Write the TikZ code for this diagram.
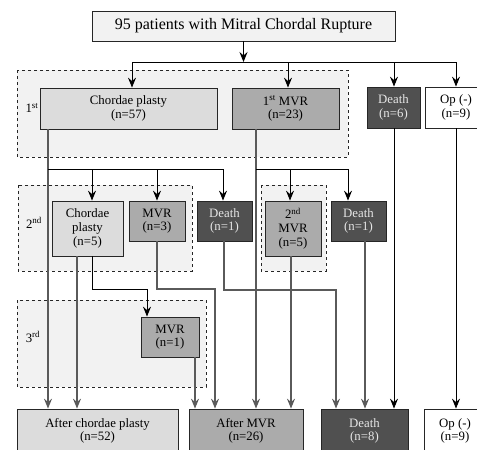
\documentclass[tikz,border=0pt]{standalone}
\usepackage{fontspec}
\setmainfont{Liberation Serif}
\newfontfamily\lserif{Liberation Serif}
\usetikzlibrary{arrows.meta,calc}
\definecolor{topgray}{HTML}{F2F2F2}
\definecolor{framegray}{HTML}{F2F2F2}
\definecolor{cpgray}{HTML}{DCDCDC}
\definecolor{mvrgray}{HTML}{ABABAB}
\definecolor{deathgray}{HTML}{505050}
\definecolor{deathtext}{HTML}{E6E6E6}
\definecolor{linegray}{HTML}{5A5A5A}
\tikzset{
  box/.style={draw=black!85, line width=0.8pt, align=center, inner sep=0pt,
              font=\lserif\fontsize{12.8}{13.6}\selectfont},
  cpbox/.style={box, fill=cpgray},
  mvrbox/.style={box, fill=mvrgray},
  deathbox/.style={box, fill=deathgray, text=deathtext},
  opbox/.style={box, fill=white},
  stagelabel/.style={inner sep=0pt, font=\lserif\fontsize{12.8}{13.6}\selectfont},
  frame/.style={draw=black!85, dashed, line width=0.7pt, fill=framegray},
  arr/.style={-{Stealth[length=10pt,width=8pt,inset=3.5pt]}, line width=0.9pt},
  ln/.style={line width=0.9pt},
  garr/.style={arr, draw=linegray, line width=1.1pt},
}
\begin{document}
\begin{tikzpicture}[x=1pt,y=-1pt]
\useasboundingbox (0,0) rectangle (477,450);
\clip (0,0) rectangle (477,450);
\fill[white] (0,0) rectangle (477,450);

% dashed stage frames
\draw[frame] (17,70) rectangle (348,157);
\draw[frame] (18,185) rectangle (192,271);
\draw[frame] (261,185) rectangle (326,271);
\draw[frame] (17,300) rectangle (206,387);

% stage labels
\node[stagelabel] (l1) at (32,108) {1\textsuperscript{st}};
\node[stagelabel] (l2) at (34,223) {2\textsuperscript{nd}};
\node[stagelabel] (l3) at (33,337) {3\textsuperscript{rd}};

% boxes
\node[box, fill=topgray, minimum width=303pt, minimum height=30pt,
      font=\lserif\fontsize{16}{18}\selectfont] (top) at (243.5,26) {95 patients with Mitral Chordal Rupture};

\node[cpbox, minimum width=177pt, minimum height=41pt] (cp1) at (128.5,108.5) {Chordae plasty\\(n=57)};
\node[mvrbox, minimum width=107pt, minimum height=41pt] (mvr1) at (285.5,108.5) {1\textsuperscript{st} MVR\\(n=23)};
\node[deathbox, minimum width=53pt, minimum height=41pt] (d1) at (393.5,107.5) {Death\\(n=6)};
\node[opbox, minimum width=62pt, minimum height=41pt] (op1) at (456,107.5) {Op (-)\\(n=9)};

\node[cpbox, minimum width=71pt, minimum height=55pt] (cp2) at (87.5,228.5) {Chordae\\plasty\\(n=5)};
\node[mvrbox, minimum width=56pt, minimum height=40pt] (mvr2) at (157,221) {MVR\\(n=3)};
\node[deathbox, minimum width=55pt, minimum height=40pt] (d2) at (224.5,221) {Death\\(n=1)};
\node[mvrbox, minimum width=56pt, minimum height=55pt] (mvr2b) at (293,228.5) {2\textsuperscript{nd}\\MVR\\(n=5)};
\node[deathbox, minimum width=55pt, minimum height=40pt] (d2b) at (358.5,221) {Death\\(n=1)};

\node[mvrbox, minimum width=58pt, minimum height=40pt] (mvr3) at (170,337) {MVR\\(n=1)};

\node[cpbox, minimum width=161pt, minimum height=44pt] (acp) at (97.5,431) {After chordae plasty\\(n=52)};
\node[mvrbox, minimum width=114pt, minimum height=44pt] (amvr) at (246,431) {After MVR\\(n=26)};
\node[deathbox, minimum width=87pt, minimum height=44pt] (d3) at (364.5,431) {Death\\(n=8)};
\node[opbox, minimum width=62pt, minimum height=44pt] (op3) at (455,431) {Op (-)\\(n=9)};

% ---- connectors, first split
\coordinate (j0) at (243.5,62);
\coordinate (jcp1) at (132,62);
\coordinate (jmvr1) at (288,62);
\coordinate (jd1) at (394,62);
\coordinate (jop1) at (456,62);
\draw[ln] (jcp1) -- (jop1);
\draw[arr] (top.south) -- (j0);
\foreach \c/\n in {jcp1/cp1, jmvr1/mvr1, jd1/d1, jop1/op1}
  \draw[arr] (\c) -- (\c |- \n.north);

% ---- second split from chordae plasty
\coordinate (kcp1) at (48,169);
\coordinate (kcp2) at (92,169);
\coordinate (kmvr2) at (157,169);
\coordinate (kd2) at (223,169);
\draw[garr] (kcp1 |- cp1.south) -- (kcp1 |- acp.north);
\draw[ln] (kcp1) -- (kd2);
\foreach \c/\n in {kcp2/cp2, kmvr2/mvr2, kd2/d2}
  \draw[arr] (\c) -- (\c |- \n.north);

% ---- second split from 1st MVR
\coordinate (kmvr1) at (256,169);
\coordinate (kmvr2b) at (290,169);
\coordinate (kd2b) at (348,169);
\draw[garr] (kmvr1 |- mvr1.south) -- (kmvr1 |- amvr.north);
\draw[ln] (kmvr1) -- (kd2b);
\foreach \c/\n in {kmvr2b/mvr2b, kd2b/d2b}
  \draw[arr] (\c) -- (\c |- \n.north);

% ---- from second stage
\coordinate (q1) at (77,300);
\draw[garr] (q1 |- cp2.south) -- (q1 |- acp.north);
\coordinate (p1) at (92,289);
\coordinate (p2) at (147,289);
\draw[arr] (p1 |- cp2.south) -- (p1) -- (p2) -- (p2 |- mvr3.north);
\coordinate (p3) at (157,289);
\coordinate (p4) at (215,289);
\draw[garr] (p3 |- mvr2.south) -- (p3) -- (p4) -- (p4 |- amvr.north);
\coordinate (p5) at (224,290);
\coordinate (p6) at (336,290);
\draw[garr] (p5 |- d2.south) -- (p5) -- (p6) -- (p6 |- d3.north);
\coordinate (q2) at (291,300);
\draw[garr] (q2 |- mvr2b.south) -- (q2 |- amvr.north);
\coordinate (q3) at (365,300);
\draw[garr] (q3 |- d2b.south) -- (q3 |- d3.north);
\coordinate (q4) at (394,300);
\draw[arr] (q4 |- d1.south) -- (q4 |- d3.north);
\coordinate (q5) at (456,300);
\draw[arr] (q5 |- op1.south) -- (q5 |- op3.north);
\coordinate (q6) at (195,380);
\draw[garr] (q6 |- mvr3.south) -- (q6 |- amvr.north);
\end{tikzpicture}
\end{document}
